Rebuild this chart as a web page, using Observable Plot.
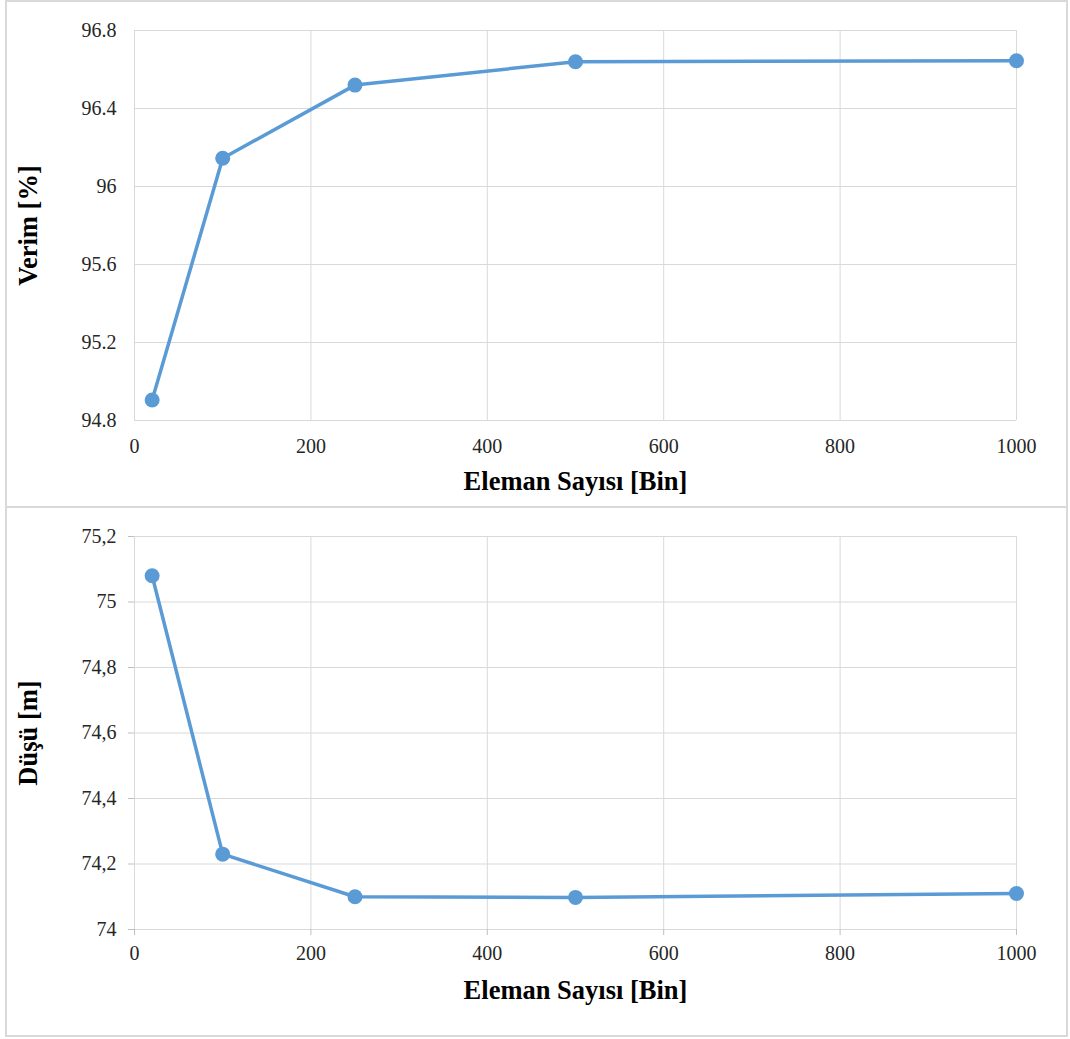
<!DOCTYPE html>
<html>
<head>
<meta charset="utf-8">
<script src="https://cdn.jsdelivr.net/npm/d3@7"></script>
<script src="https://cdn.jsdelivr.net/npm/@observablehq/plot@0.6"></script>
<style>
  html, body { margin: 0; padding: 0; background: #fff; }
  #wrap { position: relative; width: 1070px; height: 1039px; }
  .box { position: absolute; border: 2px solid #d9d9d9; box-sizing: border-box; }
  .chart { position: absolute; left: 0; }
  .chart svg { overflow: visible; }
  .chart svg text { font-family: 'Liberation Serif', 'Times New Roman', serif !important; }
  g[aria-label="x-axis tick label"] text, g[aria-label="y-axis tick label"] text {
    font-size: 20px; fill: #262626;
  }
  g[aria-label="y-axis label"] text, g[aria-label="x-axis label"] text {
    font-weight: bold; font-size: 26.5px; fill: #000;
  }
</style>
</head>
<body>
<div id="wrap">
  <div class="box" style="left:5px; top:0px; width:1063px; height:508px;"></div>
  <div class="box" style="left:5px; top:506px; width:1063px; height:531px;"></div>
  <div class="chart" id="top" style="top:0px;"></div>
  <div class="chart" id="bottom" style="top:507px;"></div>
</div>
<script>
// Data
const elemanSayisi = [20, 100, 250, 500, 1000];
const verim = [94.905, 96.145, 96.52, 96.64, 96.645];
const dusu = [75.08, 74.23, 74.10, 74.098, 74.11];

const xTicks = [0, 200, 400, 600, 800, 1000];
const verimTicks = [94.8, 95.2, 95.6, 96, 96.4, 96.8];
const verimTickLabels = ["94.8", "95.2", "95.6", "96", "96.4", "96.8"];
const dusuTicks = [74, 74.2, 74.4, 74.6, 74.8, 75, 75.2];
const dusuTickLabels = ["74", "74,2", "74,4", "74,6", "74,8", "75", "75,2"];

const xTitle = "Eleman Sayısı [Bin]";
const verimTitle = "Verim [%]";
const dusuTitle = "Düşü [m]";

const lineColor = "#5b9bd5";
const gridColor = "#d9d9d9";
const fontFamily = "'Liberation Serif', 'Times New Roman', serif";

function makeChart({values, yDomain, yTicks, yLabels, yTitle, height, marginTop, marginBottom, tickSize, yPad, xPad, xLabelOffset}) {
  const data = elemanSayisi.map((x, i) => ({x, y: values[i]}));
  return Plot.plot({
    width: 1070,
    height,
    marginLeft: 134,
    marginRight: 54,
    marginTop,
    marginBottom,
    style: {fontFamily, fontSize: "20px", color: "#000", background: "transparent"},
    x: {domain: [0, 1000]},
    y: {domain: yDomain},
    marks: [
      Plot.gridX(xTicks, {stroke: gridColor, strokeOpacity: 1, strokeWidth: 1}),
      Plot.gridY(yTicks, {stroke: gridColor, strokeOpacity: 1, strokeWidth: 1}),
      Plot.axisX({
        ticks: xTicks, tickSize, tickPadding: xPad, stroke: "#bfbfbf",
        tickFormat: d => String(d),
        label: xTitle, labelAnchor: "center", labelArrow: "none", labelOffset: xLabelOffset
      }),
      Plot.axisY({
        ticks: yTicks, tickSize, tickPadding: yPad, stroke: "#bfbfbf",
        tickFormat: d => yLabels[yTicks.indexOf(d)],
        label: yTitle, labelAnchor: "center", labelArrow: "none", labelOffset: 116
      }),
      Plot.line(data, {x: "x", y: "y", stroke: lineColor, strokeWidth: 3.5}),
      Plot.dot(data, {x: "x", y: "y", r: 7.5, fill: lineColor, stroke: "none"})
    ]
  });
}

document.getElementById("top").append(makeChart({
  values: verim, yDomain: [94.8, 96.8], yTicks: verimTicks, yLabels: verimTickLabels,
  yTitle: verimTitle, height: 507, marginTop: 30, marginBottom: 87, tickSize: 0, yPad: 18, xPad: 18, xLabelOffset: 69
}));
document.getElementById("bottom").append(makeChart({
  values: dusu, yDomain: [74, 75.2], yTicks: dusuTicks, yLabels: dusuTickLabels,
  yTitle: dusuTitle, height: 532, marginTop: 29, marginBottom: 110, tickSize: 6, yPad: 12, xPad: 10, xLabelOffset: 69
}));
</script>
</body>
</html>
